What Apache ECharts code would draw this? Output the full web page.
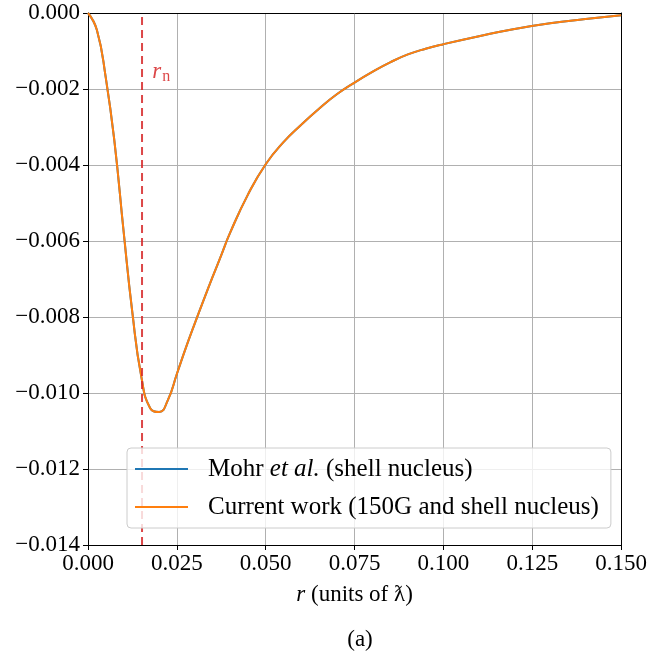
<!DOCTYPE html>
<html><head><meta charset="utf-8">
<script src="https://cdn.jsdelivr.net/npm/echarts@6/dist/echarts.min.js"></script>
<style>html,body{margin:0;padding:0;background:#fff}#c{width:650px;height:657px}</style>
</head><body><div id="c"></div>
<script>
const rValues = [0, 0.0025, 0.005, 0.0075, 0.01, 0.0125, 0.015, 0.0175, 0.02, 0.0225, 0.025, 0.0275, 0.03, 0.0325, 0.035, 0.0375, 0.04, 0.045, 0.05, 0.055, 0.06, 0.065, 0.07, 0.075, 0.08, 0.085, 0.09, 0.095, 0.10, 0.11, 0.12, 0.13, 0.14, 0.15];
const mohrValues = [0, -0.00045, -0.00170, -0.00343, -0.00573, -0.0079, -0.00957, -0.01040, -0.01050, -0.01018, -0.00950, -0.00882, -0.00818, -0.00756, -0.00696, -0.00637, -0.00578, -0.00478, -0.00398, -0.00340, -0.00294, -0.00252, -0.00214, -0.00183, -0.00155, -0.00130, -0.00109, -0.00094, -0.00082, -0.00061, -0.00042, -0.00027, -0.00016, -0.00006];
const currentValues = [0, -0.00045, -0.00170, -0.00343, -0.00573, -0.0079, -0.00957, -0.01040, -0.01050, -0.01018, -0.00950, -0.00882, -0.00818, -0.00756, -0.00696, -0.00637, -0.00578, -0.00478, -0.00398, -0.00340, -0.00294, -0.00252, -0.00214, -0.00183, -0.00155, -0.00130, -0.00109, -0.00094, -0.00082, -0.00061, -0.00042, -0.00027, -0.00016, -0.00006];
const seriesNames = ['Mohr et al. (shell nucleus)', 'Current work (150G and shell nucleus)'];
const rNucleus = 0.0152;
const yRange = [-0.014, 0];
const xRange = [0, 0.15];

const FONT = '"Liberation Serif", "DejaVu Serif", serif';
const RED = 'rgba(214,39,40,0.85)';
const chart = echarts.init(document.getElementById('c'), null, {renderer: 'canvas'});
const zip = (xs, ys) => xs.map((x, i) => [x, ys[i]]);
const fmt = v => (v < 0 ? '\u2212' : '') + Math.abs(v).toFixed(3);

chart.setOption({
  animation: false,
  backgroundColor: '#fff',
  title: {
    text: '(a)', left: 355, top: 623, textAlign: 'center',
    textStyle: {fontFamily: FONT, fontSize: 23, fontWeight: 'normal', color: '#000'}
  },
  grid: {left: 88, top: 13, right: 28, bottom: 112, containLabel: false},
  legend: {
    left: 127, top: 448, orient: 'vertical',
    backgroundColor: 'rgba(255,255,255,0.8)', borderColor: '#cccccc', borderWidth: 1, borderRadius: 4,
    padding: [8, 12, 8, 8], itemWidth: 53, itemHeight: 2, itemGap: 12,
    icon: 'rect',
    data: seriesNames,
    formatter: name => name === seriesNames[0]
      ? '{n|Mohr }{i|et al.}{n| (shell nucleus)}'
      : '{n|' + name + '}',
    textStyle: {
      fontFamily: FONT, fontSize: 25, color: '#000', padding: [0, 0, 0, 15], lineHeight: 26,
      rich: {
        n: {fontFamily: FONT, fontSize: 25, color: '#000', lineHeight: 26},
        i: {fontFamily: FONT, fontSize: 25, fontStyle: 'italic', color: '#000', lineHeight: 26}
      }
    }
  },
  xAxis: [{
    type: 'value', min: xRange[0], max: xRange[1], interval: 0.025,
    name: '{i|r} (units of \u019B)', nameLocation: 'middle', nameGap: 38,
    nameTextStyle: {fontFamily: FONT, fontSize: 23, color: '#000',
      rich: {i: {fontFamily: FONT, fontSize: 23, fontStyle: 'italic', color: '#000'}}},
    axisLine: {show: true, onZero: false, lineStyle: {color: '#000', width: 1}},
    axisTick: {show: true, length: 5, lineStyle: {color: '#000'}},
    axisLabel: {formatter: v => fmt(v), fontFamily: FONT, fontSize: 23, color: '#000', margin: 7},
    splitLine: {show: true, lineStyle: {color: '#b0b0b0', width: 1}}
  }, {
    type: 'value', min: xRange[0], max: xRange[1], position: 'top',
    axisLine: {show: true, onZero: false, lineStyle: {color: '#000', width: 1}},
    axisTick: {show: false}, axisLabel: {show: false}, splitLine: {show: false}
  }],
  yAxis: [{
    type: 'value', min: yRange[0], max: yRange[1], interval: 0.002,
    axisLine: {show: true, onZero: false, lineStyle: {color: '#000', width: 1}},
    axisTick: {show: true, length: 5, lineStyle: {color: '#000'}},
    axisLabel: {formatter: v => fmt(v), fontFamily: FONT, fontSize: 23, color: '#000', margin: 8},
    splitLine: {show: true, lineStyle: {color: '#b0b0b0', width: 1}}
  }, {
    type: 'value', min: yRange[0], max: yRange[1], position: 'right',
    axisLine: {show: true, onZero: false, lineStyle: {color: '#000', width: 1}},
    axisTick: {show: false}, axisLabel: {show: false}, splitLine: {show: false}
  }],
  series: [{
    name: seriesNames[0], type: 'line', symbol: 'none', smooth: 0.5,
    data: zip(rValues, mohrValues),
    lineStyle: {color: '#1f77b4', width: 2}, itemStyle: {color: '#1f77b4'}
  }, {
    name: seriesNames[1], type: 'line', symbol: 'none', smooth: 0.5,
    data: zip(rValues, currentValues),
    lineStyle: {color: '#ff7f0e', width: 2}, itemStyle: {color: '#ff7f0e'}
  }, {
    name: 'rn', type: 'line', symbol: 'none', silent: true, z: 3,
    data: [[rNucleus, yRange[0]], [rNucleus, yRange[1]]],
    lineStyle: {color: RED, type: [8, 5], width: 2},
    markPoint: {
      silent: true, symbol: 'circle', symbolSize: 0,
      data: [{coord: [rNucleus + 0.0029, -0.00156]}],
      label: {
        show: true, position: 'right', distance: 0,
        formatter: '{i|r}{s|n}',
        rich: {
          i: {fontFamily: FONT, fontSize: 23, fontStyle: 'italic', color: RED},
          s: {fontFamily: FONT, fontSize: 16, color: RED, padding: [10, 0, 0, 1]}
        }
      }
    }
  }]
});
</script></body></html>
